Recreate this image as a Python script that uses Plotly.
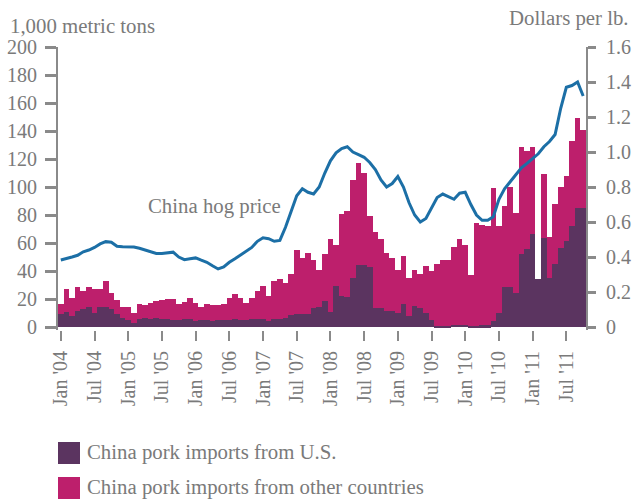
import plotly.graph_objects as go

# ---------------- data ----------------
month_names = ["Jan", "Feb", "Mar", "Apr", "May", "Jun",
               "Jul", "Aug", "Sep", "Oct", "Nov", "Dec"]
months = [f"{m} '{y % 100:02d}" for y in range(2004, 2012) for m in month_names][:94]
tick_labels = months[::6]          # Jan '04, Jul '04, ... Jul '11

# China pork imports from U.S. (1,000 metric tons)
us_imports = [9.3, 11, 7.9, 11.4, 12.6, 14.3, 10.2, 14, 14.3, 12.6,
              9.5, 6.2, 4.8, 3, 5.5, 6.2, 5.5, 6.2, 6, 6,
              5, 5, 6, 6, 4, 5, 5, 4, 5, 5,
              5, 6, 5, 5, 6, 6, 6, 4.3, 5.5, 5.5,
              6.7, 8.3, 9, 9, 9.5, 13.3, 14, 18.6, 11, 29.5,
              22.5, 21.7, 35, 44.5, 44, 43, 13.8, 13.5, 11.4, 11.4,
              10.2, 16.4, 8.1, 15, 13.8, 10, 5, 1, 0.5, 0.5,
              1.5, 1.5, 1.5, 0.8, 0.8, 1.4, 1.4, 4.5, 10, 28.6,
              28.6, 24, 51.9, 55.5, 66.2, 34, 63.8, 35.2, 44.8, 56.7,
              61.4, 72.1, 85.2, 85.2]

# China pork imports from other countries (1,000 metric tons)
other_imports = [7.1, 16.4, 13.1, 17.2, 13.1, 14.3, 16.8, 13.4, 18.6, 11.9,
                 9.5, 8.1, 9.2, 7.2, 10.9, 9.8, 11.6, 12.4, 13, 13.8,
                 14.8, 11.7, 11.9, 14.5, 13.4, 9.3, 11.2, 11.7, 10.7, 11.2,
                 15.5, 17.8, 15.5, 12.4, 15, 19.7, 23.3, 17.7, 27.5, 29,
                 25, 29.7, 46, 40.5, 43.5, 34.3, 26.5, 33.4, 51.6, 29.1,
                 58.5, 61.3, 70, 72.9, 66, 36, 54.2, 49.5, 41.6, 37.6,
                 30.8, 34.3, 26.9, 26, 24.2, 33.6, 35, 43.8, 47.1, 47.1,
                 55.5, 61.1, 56.8, 36.2, 73.7, 71.6, 70.6, 95, 62, 57.8,
                 71.4, 57.6, 76.7, 70.5, 62.4, 0, 45.7, 29.3, 42.8, 43.3,
                 46.6, 60.9, 63.8, 55.3]

# China hog price (dollars per lb.)
hog_price = [0.383, 0.39, 0.40, 0.41, 0.43, 0.44, 0.455, 0.475, 0.488, 0.485,
             0.462, 0.459, 0.459, 0.457, 0.45, 0.44, 0.43, 0.42, 0.42, 0.425,
             0.428, 0.40, 0.385, 0.39, 0.395, 0.382, 0.37, 0.35, 0.332, 0.343,
             0.37, 0.39, 0.41, 0.43, 0.455, 0.49, 0.51, 0.505, 0.49, 0.495,
             0.57, 0.66, 0.75, 0.79, 0.77, 0.76, 0.80, 0.88, 0.95, 0.995,
             1.02, 1.03, 1.00, 0.985, 0.97, 0.94, 0.90, 0.84, 0.80, 0.82,
             0.86, 0.80, 0.71, 0.64, 0.60, 0.62, 0.68, 0.74, 0.76, 0.745,
             0.73, 0.765, 0.77, 0.70, 0.64, 0.61, 0.61, 0.63, 0.73, 0.79,
             0.83, 0.87, 0.91, 0.935, 0.96, 0.99, 1.03, 1.06, 1.10, 1.25,
             1.37, 1.38, 1.40, 1.32]

left_ticks = [0, 20, 40, 60, 80, 100, 120, 140, 160, 180, 200]
right_ticks = [0, 0.2, 0.4, 0.6, 0.8, 1.0, 1.2, 1.4, 1.6]
right_tick_labels = ["0", "0.2", "0.4", "0.6", "0.8", "1.0", "1.2", "1.4", "1.6"]

series_names = ["China pork imports from U.S.", "China pork imports from other countries"]

# ---------------- style ----------------
DARK = "#5b3460"
MAGENTA = "#bd1f6c"
BLUE = "#1c6fa6"
GREY_TXT = "#7a7a7a"
GREY_AX = "#8a8a8a"
FONT = "Liberation Serif"
FS = 20
FS_TXT = 20.8

W, H = 636, 499
ML, MR, MT, MB = 58, 50, 47, 169
PW, PH = W - ML - MR, H - MT - MB


def px_x(x):
    return (x - ML) / PW


def px_y(y):
    return (H - MB - y) / PH


fig = go.Figure()
fig.add_trace(go.Bar(x=months, y=us_imports, name=series_names[0],
                     marker=dict(color=DARK, line=dict(width=0))))
fig.add_trace(go.Bar(x=months, y=other_imports, name=series_names[1],
                     marker=dict(color=MAGENTA, line=dict(width=0))))
fig.add_trace(go.Scatter(x=months, y=hog_price, name="China hog price", yaxis="y2",
                         mode="lines", line=dict(color=BLUE, width=3)))

tickfont = dict(family=FONT, size=FS, color=GREY_TXT)
txtfont = dict(family=FONT, size=FS_TXT, color=GREY_TXT)

fig.update_layout(
    width=W, height=H,
    margin=dict(l=ML, r=MR, t=MT, b=MB, pad=0, autoexpand=False),
    paper_bgcolor="white", plot_bgcolor="white",
    barmode="stack", bargap=0,
    showlegend=False,
    xaxis=dict(type="category", range=[-0.5, len(months) - 0.5],
               tickvals=tick_labels, ticktext=tick_labels, tickangle=-90,
               ticks="outside", ticklen=10, tickwidth=2, tickcolor=GREY_AX,
               showline=False, showgrid=False, zeroline=False,
               tickfont=tickfont, automargin=False, ticklabelstandoff=2),
    yaxis=dict(range=[-2.1, 200], tickvals=left_ticks,
               ticks="outside", ticklen=11, tickwidth=2.5, tickcolor=GREY_AX,
               showline=True, linecolor=GREY_AX, linewidth=2,
               showgrid=False, zeroline=False, tickfont=tickfont,
               ticklabelstandoff=4, automargin=False),
    yaxis2=dict(range=[-2.1 * 0.008, 1.6], overlaying="y", side="right",
                tickvals=right_ticks, ticktext=right_tick_labels,
                ticks="outside", ticklen=8, tickwidth=2.5, tickcolor=GREY_AX,
                showline=True, linecolor=GREY_AX, linewidth=2,
                showgrid=False, zeroline=False, tickfont=tickfont,
                ticklabelstandoff=6, automargin=False),
)

annotations = [
    dict(text="1,000 metric tons", x=px_x(8), y=px_y(26), xref="paper", yref="paper",
         xanchor="left", yanchor="middle", showarrow=False, font=txtfont),
    dict(text="Dollars per lb.", x=px_x(631), y=px_y(18), xref="paper", yref="paper",
         xanchor="right", yanchor="middle", showarrow=False, font=txtfont),
    dict(text="China hog price", x=px_x(146), y=px_y(206), xref="paper", yref="paper",
         xanchor="left", yanchor="middle", showarrow=False, font=txtfont),
    dict(text=series_names[0], x=px_x(85), y=px_y(452), xref="paper", yref="paper",
         xanchor="left", yanchor="middle", showarrow=False, font=txtfont),
    dict(text=series_names[1], x=px_x(85), y=px_y(487), xref="paper", yref="paper",
         xanchor="left", yanchor="middle", showarrow=False, font=txtfont),
]

shapes = [
    dict(type="rect", xref="paper", yref="paper", x0=px_x(58), x1=px_x(80),
         y0=px_y(464), y1=px_y(442), fillcolor=DARK, line=dict(width=0)),
    dict(type="rect", xref="paper", yref="paper", x0=px_x(58), x1=px_x(80),
         y0=px_y(500), y1=px_y(477), fillcolor=MAGENTA, line=dict(width=0)),
]

fig.update_layout(annotations=annotations, shapes=shapes)

fig.write_html(
    "out.html",
    config={"displayModeBar": False},
    post_script="document.body.style.margin='0px';document.body.style.overflow='hidden';",
)
